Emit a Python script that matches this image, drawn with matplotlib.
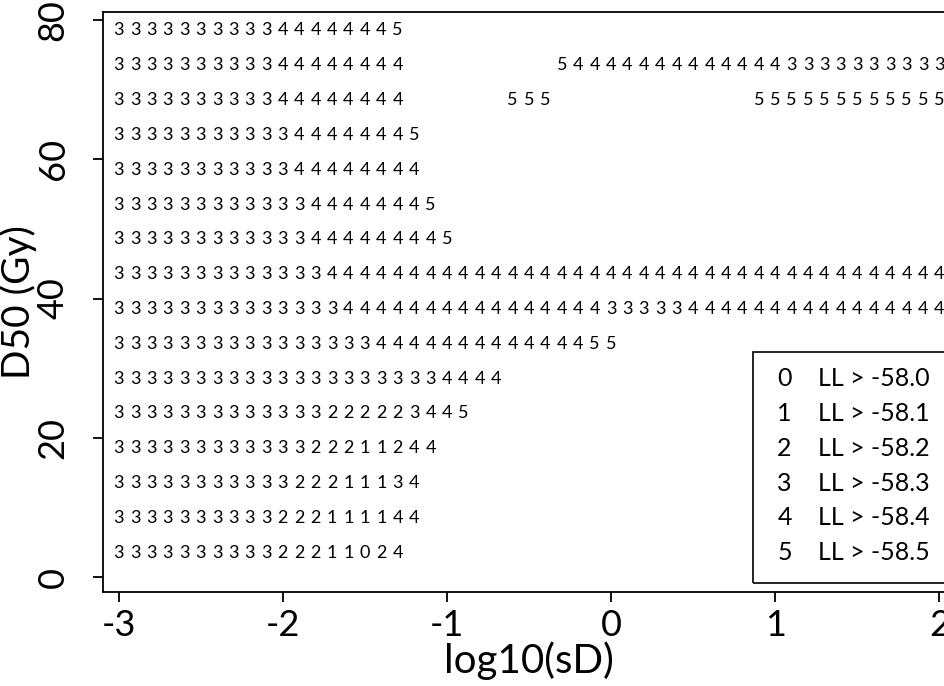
import matplotlib
matplotlib.use("Agg")
import matplotlib.pyplot as plt
import matplotlib.transforms as mtransforms
from matplotlib.patches import Rectangle

plt.rcParams["font.family"] = ["Lato", "DejaVu Sans"]

# grid of log10(sD) values, one column per character
LOG_SD = [-3.0, -2.9, -2.8, -2.7, -2.6, -2.5, -2.4, -2.3, -2.2, -2.1,
          -2.0, -1.9, -1.8, -1.7, -1.6, -1.5, -1.4, -1.3, -1.2, -1.1,
          -1.0, -0.9, -0.8, -0.7, -0.6, -0.5, -0.4, -0.3, -0.2, -0.1,
          0.0, 0.1, 0.2, 0.3, 0.4, 0.5, 0.6, 0.7, 0.8, 0.9,
          1.0, 1.1, 1.2, 1.3, 1.4, 1.5, 1.6, 1.7, 1.8, 1.9, 2.0]

D50_ROWS = [78.5, 73.5, 68.5, 63.5, 58.5, 53.5, 48.5, 43.5,
            38.5, 33.5, 28.5, 23.5, 18.5, 13.5, 8.5, 3.5]

# likelihood class per grid cell (blank = below -58.5)
LL_CODES = [
    "333333333344444445",
    "333333333344444444" + "         " + "5" + "4444444444444" + "3333333333",
    "333333333344444444" + "      " + "555" + "            " + "555555555555",
    "3333333333344444445",
    "3333333333344444444",
    "33333333333344444445",
    "333333333333444444445",
    "3333333333333" + "44444444444444444444444444444444444444",
    "33333333333333" + "4444444444444444" + "33333" + "4444444444444444",
    "3333333333333333" + "4444444444444" + "55",
    "33333333333333333333" + "4444",
    "3333333333333" + "22222" + "3445",
    "333333333333" + "222" + "11" + "244",
    "33333333333" + "222" + "111" + "34",
    "3333333333" + "222" + "1111" + "44",
    "3333333333" + "222" + "11" + "024",
]

LEGEND_CODES = ["0", "1", "2", "3", "4", "5"]
LEGEND_LABELS = ["LL > -58.0", "LL > -58.1", "LL > -58.2",
                 "LL > -58.3", "LL > -58.4", "LL > -58.5"]

X_TICKS = [-3, -2, -1, 0, 1, 2]
Y_TICKS = [0, 20, 40, 60, 80]


def main():
    fig = plt.figure(figsize=(9.44, 6.86), dpi=100)
    fig.patch.set_facecolor("white")
    ax = fig.add_axes([103 / 944, 94 / 686, 852 / 944, 580 / 686])

    for d50, row in zip(D50_ROWS, LL_CODES):
        for x, ch in zip(LOG_SD, row):
            if ch != " ":
                ax.text(x, d50, ch, ha="center", va="center",
                        fontsize=13, color="black")

    ax.set_xlim(-3.095, 2.095)
    ax.set_ylim(-2.15, 81.15)
    ax.set_xticks(X_TICKS)
    ax.set_yticks(Y_TICKS)
    ax.set_xticklabels([str(t) for t in X_TICKS])
    ax.set_yticklabels([str(t) for t in Y_TICKS], rotation=90, va="center")
    ax.tick_params(axis="both", direction="out", length=7, width=1.3,
                   labelsize=26)
    ax.tick_params(axis="x", pad=5)
    ax.tick_params(axis="y", pad=17)
    for sp in ax.spines.values():
        sp.set_linewidth(1.3)

    ax.set_xlabel("log10(sD)", fontsize=29, labelpad=0)
    ax.set_ylabel("D50 (Gy)", fontsize=28)
    ax.yaxis.set_label_coords(-0.078, 0.5)

    # legend box, drawn by hand like the original
    ax.add_patch(Rectangle((0.763, 0.0155), 0.5, 0.399,
                           transform=ax.transAxes, fill=False,
                           linewidth=1.2, edgecolor="black"))
    trans = mtransforms.blended_transform_factory(ax.transAxes, ax.transData)
    for d50, code, label in zip(D50_ROWS[10:], LEGEND_CODES, LEGEND_LABELS):
        ax.text(0.800, d50, code, transform=trans, ha="center",
                va="center", fontsize=18)
        ax.text(0.839, d50, label, transform=trans, ha="left",
                va="center", fontsize=18)

    fig.savefig("out.png", dpi=100, facecolor="white")


if __name__ == "__main__":
    main()
